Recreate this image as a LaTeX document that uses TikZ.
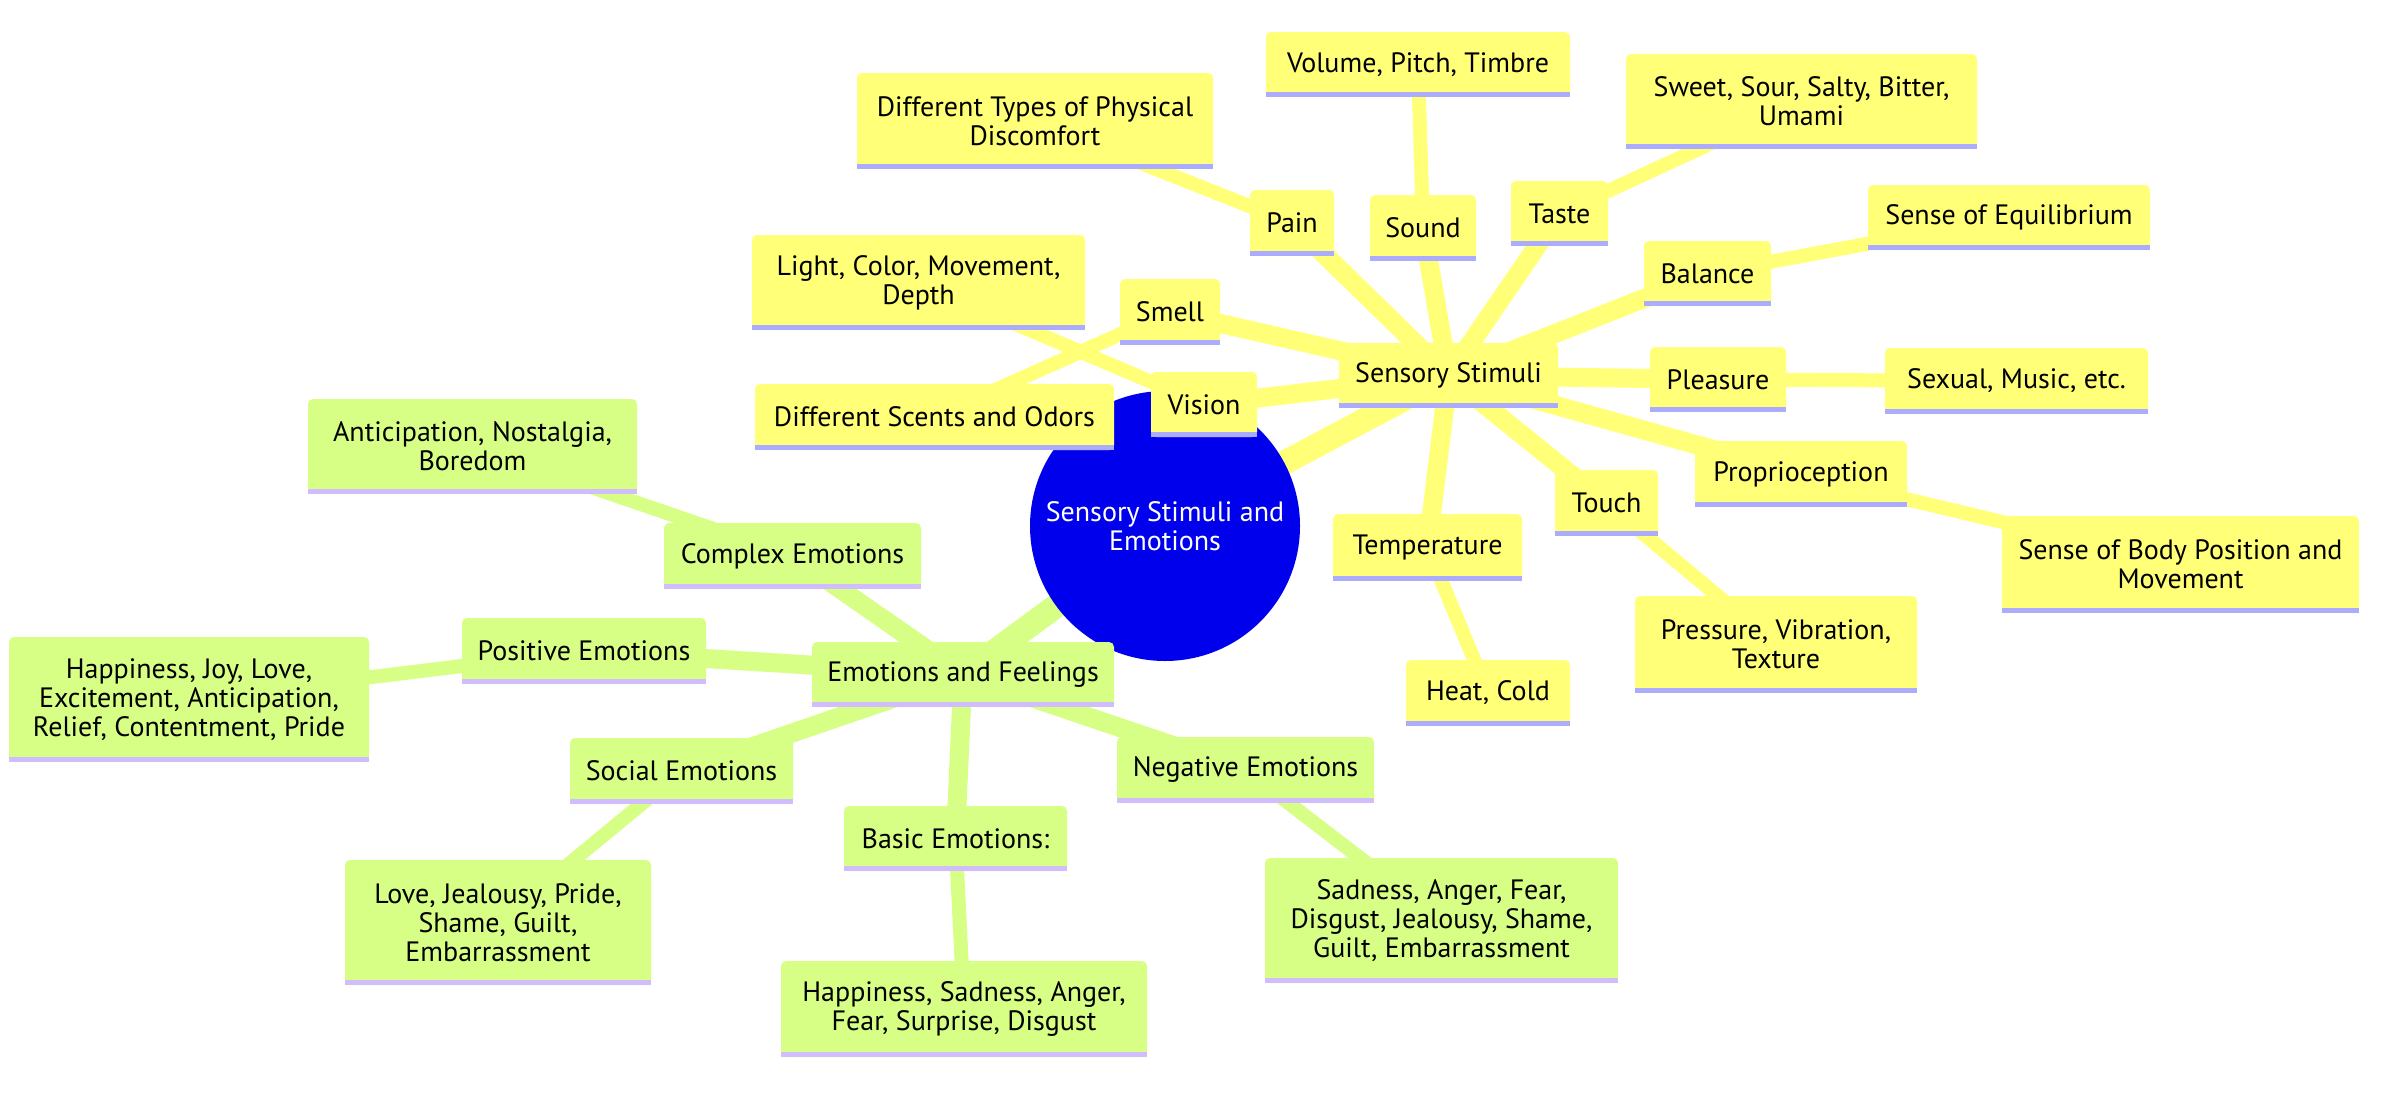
\documentclass[tikz,border=0pt]{standalone}
\usepackage{fontspec}
\setmainfont{PT Sans}
\usetikzlibrary{backgrounds}
\definecolor{yfill}{HTML}{FFFF78}
\definecolor{yboxline}{HTML}{ABABFF}
\definecolor{gfill}{HTML}{D7FF86}
\definecolor{gboxline}{HTML}{D1BCFE}
\definecolor{rootblue}{HTML}{0000EC}
\newcommand\mnode[7]{%
  \node[#1, minimum width={(#4-#3)*0.5pt}, minimum height={(#6-#5)*0.5pt}] (#2) at ({(#3+#4)/2},{(#5+#6)/2}) {#7};%
  \fill[#1line] (#2.south west) rectangle ([yshift=2.5pt]#2.south east);%
}
\begin{document}
\begin{tikzpicture}[x=0.5pt,y=-0.5pt,
  font=\fontsize{14}{14.5}\selectfont,
  basebox/.style={rectangle, rounded corners=2.5pt, inner sep=0pt, outer sep=0pt, align=center, text=black},
  ybox/.style={basebox, fill=yfill},
  gbox/.style={basebox, fill=gfill},
  yedge/.style={draw=yfill},
  gedge/.style={draw=gfill},
  lv0/.style={line width=12pt},
  lv1/.style={line width=9.5pt},
  lv2/.style={line width=7pt}]
\useasboundingbox (0,0) rectangle (2384,1114);
\begin{pgfonlayer}{background}
\fill[white] (0,0) rectangle (2384,1114);
\end{pgfonlayer}
% root
\node[circle, fill=rootblue, minimum size=135pt, inner sep=0pt, align=center, text=white] (root) at (1165,526) {Sensory Stimuli and\\Emotions};
% sensory branch
\mnode{ybox}{ss}{1339}{1558}{343}{408}{Sensory Stimuli}
\mnode{ybox}{pain}{1250}{1334}{190}{256}{Pain}
\mnode{ybox}{sound}{1370}{1476}{195}{261}{Sound}
\mnode{ybox}{taste}{1511}{1608}{181}{246}{Taste}
\mnode{ybox}{balance}{1644}{1771}{241}{306}{Balance}
\mnode{ybox}{pleasure}{1650}{1786}{347}{412}{Pleasure}
\mnode{ybox}{proprio}{1695}{1907}{441}{507}{Proprioception}
\mnode{ybox}{touch}{1555}{1658}{470}{536}{Touch}
\mnode{ybox}{temp}{1333}{1522}{514}{581}{Temperature}
\mnode{ybox}{vision}{1151}{1257}{372}{437}{Vision}
\mnode{ybox}{smell}{1120}{1220}{279}{345}{Smell}
\mnode{ybox}{discomfort}{857}{1213}{73}{169}{Different Types of Physical\\Discomfort}
\mnode{ybox}{vpt}{1266}{1570}{32}{97}{Volume, Pitch, Timbre}
\mnode{ybox}{sweet}{1626}{1977}{54}{149}{Sweet, Sour, Salty, Bitter,\\Umami}
\mnode{ybox}{equil}{1868}{2150}{185}{250}{Sense of Equilibrium}
\mnode{ybox}{sexual}{1885}{2148}{348}{414}{Sexual, Music, etc.}
\mnode{ybox}{bodypos}{2002}{2359}{516}{613}{Sense of Body Position and\\Movement}
\mnode{ybox}{pressure}{1635}{1917}{596}{693}{Pressure, Vibration,\\Texture}
\mnode{ybox}{heat}{1406}{1570}{660}{726}{Heat, Cold}
\mnode{ybox}{light}{752}{1085}{235}{330}{Light, Color, Movement,\\Depth}
\mnode{ybox}{scents}{755}{1114}{384}{450}{Different Scents and Odors}
% emotions branch
\mnode{gbox}{emo}{812}{1114}{642}{707}{Emotions and Feelings}
\mnode{gbox}{complex}{664}{921}{523}{589}{Complex Emotions}
\mnode{gbox}{positive}{462}{706}{618}{684}{Positive Emotions}
\mnode{gbox}{social}{570}{793}{738}{804}{Social Emotions}
\mnode{gbox}{basic}{844}{1067}{806}{871}{Basic Emotions:}
\mnode{gbox}{negative}{1117}{1374}{737}{803}{Negative Emotions}
\mnode{gbox}{antic}{308}{637}{399}{494}{Anticipation, Nostalgia,\\Boredom}
\mnode{gbox}{happy}{9}{369}{637}{762}{Happiness, Joy, Love,\\Excitement, Anticipation,\\Relief, Contentment, Pride}
\mnode{gbox}{love}{345}{651}{860}{985}{Love, Jealousy, Pride,\\Shame, Guilt,\\Embarrassment}
\mnode{gbox}{hsad}{781}{1147}{961}{1057}{Happiness, Sadness, Anger,\\Fear, Surprise, Disgust}
\mnode{gbox}{sadness}{1265}{1618}{858}{983}{Sadness, Anger, Fear,\\Disgust, Jealousy, Shame,\\Guilt, Embarrassment}
% edges
\begin{pgfonlayer}{background}
\draw[yedge, lv0] (root.center) -- (ss.center);
\draw[gedge, lv0] (root.center) -- (emo.center);
\foreach \c in {pain,sound,taste,balance,pleasure,proprio,touch,temp,vision,smell}
  \draw[yedge, lv1] (ss.center) -- (\c.center);
\foreach \a/\b in {pain/discomfort,sound/vpt,taste/sweet,balance/equil,pleasure/sexual,proprio/bodypos,touch/pressure,temp/heat,vision/light,smell/scents}
  \draw[yedge, lv2] (\a.center) -- (\b.center);
\foreach \c in {complex,positive,social,basic,negative}
  \draw[gedge, lv1] (emo.center) -- (\c.center);
\foreach \a/\b in {complex/antic,positive/happy,social/love,basic/hsad,negative/sadness}
  \draw[gedge, lv2] (\a.center) -- (\b.center);
\end{pgfonlayer}
\end{tikzpicture}
\end{document}
